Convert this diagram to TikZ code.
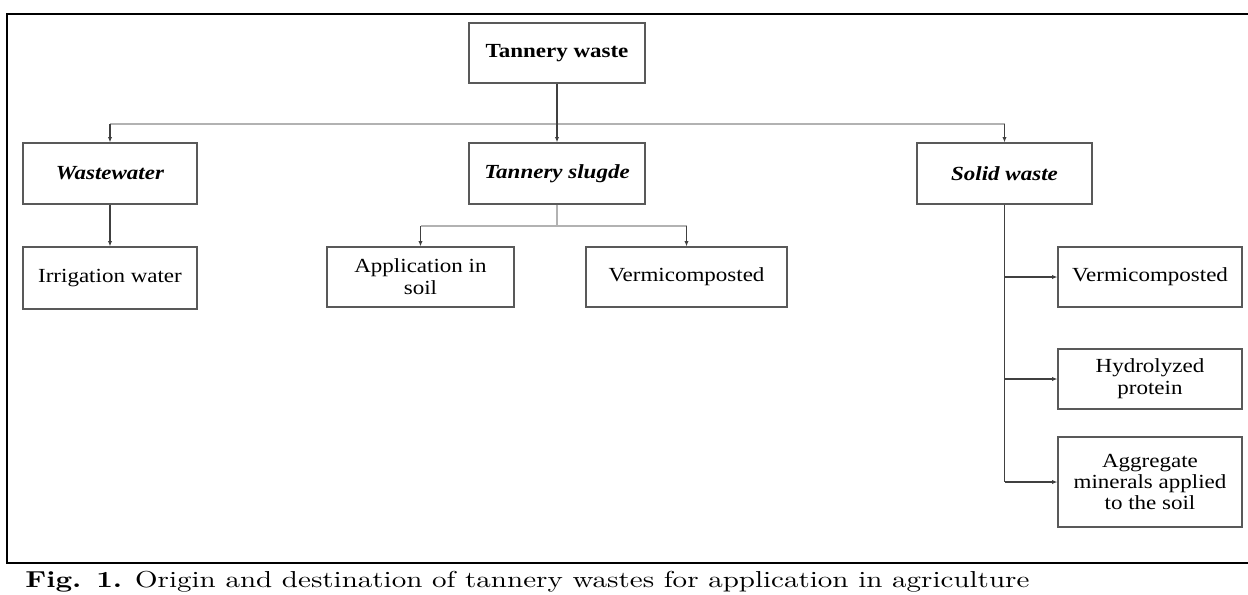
\documentclass[tikz,border=0pt]{standalone}
\usepackage{graphicx}
\usepackage{fontspec}
\newfontfamily\boxfont[FakeStretch=1.15]{Liberation Serif}
\usetikzlibrary{arrows.meta}
\begin{document}
\begin{tikzpicture}[x=0.75pt,y=-0.75pt,
  wbox/.style={draw=black!65, line width=0.9pt, rectangle, inner sep=0pt, align=center,
    font=\boxfont\fontsize{15pt}{16.5pt}\selectfont, minimum height=45pt},
  dark/.style={draw=black!75, line width=0.8pt},
  light/.style={draw=black!30, line width=1.1pt},
  tip/.style={-{Latex[length=4pt,width=3.2pt]}},
  frame/.style={draw=black, line width=1.9pt}]
\useasboundingbox (0,0) rectangle (1248,594);
\fill[white] (0,0) rectangle (1248,594);
% frame
\coordinate (f1) at (7,14);
\coordinate (f2) at (1248,14);
\coordinate (f3) at (7,563);
\coordinate (f4) at (1248,563);
\draw[frame] (f2) -- (f1) -- (f3) -- (f4);
% boxes
\node[wbox, minimum width=132pt] (tw) at (557,53) {\textbf{Tannery waste}};
\node[wbox, minimum width=130.5pt, minimum height=45.75pt] (ww) at (110,173.5) {\textbf{\textit{Wastewater}}};
\node[wbox, minimum width=132pt, minimum height=45.75pt] (ts) at (557,173.5) {\textbf{\textit{Tannery slugde}}};
\node[wbox, minimum width=131.25pt, minimum height=45.75pt] (sw) at (1004.5,173.5) {\textbf{\textit{Solid waste}}};
\node[wbox, minimum width=130.5pt, minimum height=46.5pt] (iw) at (110,278) {Irrigation water};
\node[wbox, minimum width=140.25pt] (as) at (420.5,277) {Application in\\soil};
\node[wbox, minimum width=150.75pt] (vc1) at (686.5,277) {Vermicomposted};
\node[wbox, minimum width=138pt] (vc2) at (1150,277) {Vermicomposted};
\node[wbox, minimum width=138pt] (hp) at (1150,379) {Hydrolyzed\\protein};
\node[wbox, minimum width=138pt, minimum height=67.5pt,
  font=\boxfont\fontsize{15pt}{15.5pt}\selectfont] (am) at (1150,482) {Aggregate\\minerals applied\\to the soil};
% top level connectors
\coordinate (bus) at (557,124);
\draw[light] (ww.north |- bus) -- (sw.north |- bus);
\draw[dark,tip] (tw.south) -- (ts.north);
\draw[dark,tip] (ww.north |- bus) -- (ww.north);
\draw[dark,tip] (sw.north |- bus) -- (sw.north);
% wastewater
\draw[dark,tip] (ww.south) -- (iw.north);
% sludge
\coordinate (sb) at (557,226);
\draw[light] (ts.south) -- (sb);
\draw[light] (as.north |- sb) -- (vc1.north |- sb);
\draw[dark,tip] (as.north |- sb) -- (as.north);
\draw[dark,tip] (vc1.north |- sb) -- (vc1.north);
% solid waste
\draw[dark] (sw.south) -- (sw.south |- am.west);
\draw[dark,tip] (sw.south |- vc2.west) -- (vc2.west);
\draw[dark,tip] (sw.south |- hp.west) -- (hp.west);
\draw[dark,tip] (sw.south |- am.west) -- (am.west);
% caption
\node[anchor=base west, inner sep=0pt] (cap) at (25,587)
  {\resizebox{753pt}{12.2pt}{\textbf{Fig. 1.} Origin and destination of tannery wastes for application in agriculture}};
\end{tikzpicture}
\end{document}
